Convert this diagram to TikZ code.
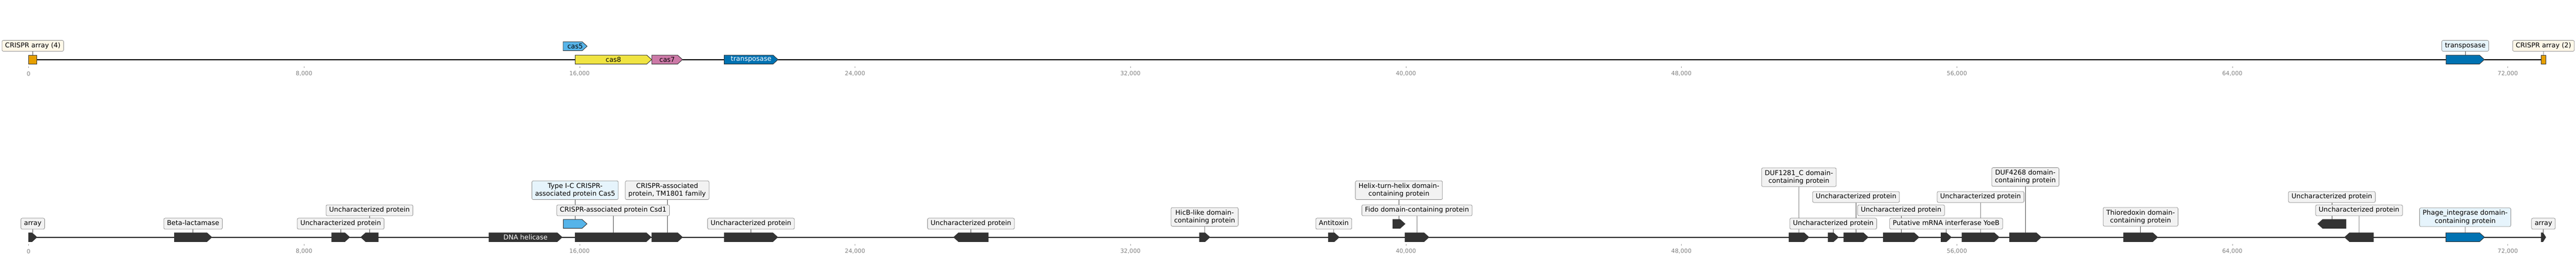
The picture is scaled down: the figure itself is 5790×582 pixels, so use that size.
\documentclass[tikz,border=0pt]{standalone}
\usepackage{fontspec}
\setmainfont{DejaVu Sans}
\definecolor{genedark}{HTML}{333333}
\definecolor{crisprorange}{HTML}{E69F00}
\definecolor{casyellow}{HTML}{F0E442}
\definecolor{caspink}{HTML}{CC79A7}
\definecolor{cassky}{HTML}{56B4E9}
\definecolor{tnpblue}{HTML}{0072B2}
\definecolor{labgray}{HTML}{F2F2F2}
\definecolor{labblue}{HTML}{E6F4FC}
\definecolor{labcream}{HTML}{FFF8E8}
\definecolor{labedge}{HTML}{8C8C8C}
\definecolor{tickgray}{HTML}{808080}
\pgfdeclarelayer{bglayer}
\pgfdeclarelayer{connlayer}
\pgfsetlayers{bglayer,connlayer,main}
% forward gene: name, x1, x2, ytop, fill
\newcommand{\genefwd}[5]{%
  \pgfmathsetmacro\ghl{min(11,(#3-#2)*0.6)}%
  \draw[genebody, fill=#5] (#2,#4) -- ({#3-\ghl},#4) -- (#3,{#4+10}) -- ({#3-\ghl},{#4+20}) -- (#2,{#4+20}) -- cycle;%
  \coordinate (#1) at ({(#2+#3)/2},#4);%
  \coordinate (#1c) at ({(#2+#3)/2},{#4+10});%
}
% reverse gene
\newcommand{\generev}[5]{%
  \pgfmathsetmacro\ghl{min(11,(#3-#2)*0.6)}%
  \draw[genebody, fill=#5] (#3,#4) -- ({#2+\ghl},#4) -- (#2,{#4+10}) -- ({#2+\ghl},{#4+20}) -- (#3,{#4+20}) -- cycle;%
  \coordinate (#1) at ({(#2+#3)/2},#4);%
  \coordinate (#1c) at ({(#2+#3)/2},{#4+10});%
}
% CRISPR array block
\newcommand{\generect}[5]{%
  \draw[genebody, fill=#5] (#2,#4) rectangle (#3,{#4+20});%
  \coordinate (#1) at ({(#2+#3)/2},#4);%
}
\begin{document}
\begin{tikzpicture}[x=1pt,y=-1pt,
  trackline/.style={line width=2.2pt, black},
  genebody/.style={draw=black!80, line width=1.1pt, line join=miter},
  conn/.style={draw=black!70, line width=0.9pt},
  labone/.style={draw=labedge, fill=labgray, rounded corners=3pt, line width=0.9pt,
    font=\fontsize{15}{17.5}\selectfont, inner xsep=7pt, inner ysep=5pt,
    text height=11pt, text depth=3.5pt, anchor=south},
  labtwo/.style={draw=labedge, fill=labgray, rounded corners=3pt, line width=0.9pt,
    font=\fontsize{15}{17.5}\selectfont, align=center, inner xsep=7pt, inner ysep=3pt,
    minimum height=42pt, anchor=south},
  intext/.style={font=\fontsize{15}{17.5}\selectfont, inner sep=0pt},
  ticklab/.style={font=\fontsize{13}{15}\selectfont, text=tickgray, inner sep=0pt},
  tickmark/.style={draw=tickgray!80, line width=0.8pt}
]
\begin{pgfonlayer}{bglayer}
\fill[white] (0,0) rectangle (5790,582);
\end{pgfonlayer}
\useasboundingbox (0,0) rectangle (5790,582);

% ---------- track lines ----------
\coordinate (ts) at (64.3,134);
\coordinate (te) at (5721.9,134);
\coordinate (bs) at (64.3,533.5);
\coordinate (be) at (5721.9,533.5);
\draw[trackline] (ts) -- (te);
\draw[trackline] (bs) -- (be);

% ---------- ticks ----------
\foreach \k/\t in {0/0,1/{8,000},2/{16,000},3/{24,000},4/{32,000},5/{40,000},6/{48,000},7/{56,000},8/{64,000},9/{72,000}}{
  \pgfmathsetmacro\tx{64.3+\k*619.15}
  \draw[tickmark] (\tx,149) -- (\tx,153);
  \node[ticklab] (tt\k) at (\tx,166) {\t};
  \draw[tickmark] (\tx,548.5) -- (\tx,552.5);
  \node[ticklab] (tb\k) at (\tx,565.5) {\t};
}

% ---------- top track genes ----------
\generect{gT1}{64.3}{83.2}{124}{crisprorange}
\genefwd{gT2}{1265.7}{1319.6}{94}{cassky}
\genefwd{gT3}{1292.9}{1464.7}{124}{casyellow}
\genefwd{gT4}{1465}{1534}{124}{caspink}
\genefwd{gT5}{1627.7}{1748.7}{124}{tnpblue}
\genefwd{gT6}{5498}{5584}{124}{tnpblue}
\generect{gT7}{5712}{5721.7}{124}{crisprorange}
\node[intext] (iT2) at (gT2c) {cas5};
\node[intext] (iT3) at (gT3c) {cas8};
\node[intext] (iT4) at (gT4c) {cas7};
\node[intext, text=white] (iT5) at (gT5c) {transposase};

% ---------- bottom track genes ----------
\genefwd{gB1}{64.4}{82.9}{523.5}{genedark}
\genefwd{gB2}{392}{476}{523.5}{genedark}
\genefwd{gB3}{745.5}{786}{523.5}{genedark}
\generev{gB4}{811}{850}{523.5}{genedark}
\genefwd{gB5}{1098.9}{1263.4}{523.5}{genedark}
\genefwd{gB6}{1266}{1319.3}{493.5}{cassky}
\genefwd{gB7}{1292.7}{1463.6}{523.5}{genedark}
\genefwd{gB8}{1465}{1534}{523.5}{genedark}
\genefwd{gB9}{1628}{1748}{523.5}{genedark}
\generev{gB10}{2143.5}{2221.3}{523.5}{genedark}
\genefwd{gB11}{2695.8}{2719.4}{523.5}{genedark}
\genefwd{gB12}{2985.7}{3010}{523.5}{genedark}
\genefwd{gB13}{3130.7}{3158}{493.5}{genedark}
\genefwd{gB14}{3158}{3211.7}{523.5}{genedark}
\genefwd{gB15}{4020.9}{4065.8}{523.5}{genedark}
\genefwd{gB16}{4109}{4132}{523.5}{genedark}
\genefwd{gB17}{4144.4}{4199}{523.5}{genedark}
\genefwd{gB18}{4232.7}{4313.3}{523.5}{genedark}
\genefwd{gB19}{4362.8}{4385.7}{523.5}{genedark}
\genefwd{gB20}{4409.7}{4493.4}{523.5}{genedark}
\genefwd{gB21}{4516.8}{4587.8}{523.5}{genedark}
\genefwd{gB22}{4773}{4849.5}{523.5}{genedark}
\generev{gB23}{5209.6}{5272.8}{493.5}{genedark}
\generev{gB24}{5270}{5334.7}{523.5}{genedark}
\genefwd{gB25}{5497.4}{5584.3}{523.5}{tnpblue}
\genefwd{gB26}{5711.5}{5721.9}{523.5}{genedark}
\node[intext, text=white] (iB5) at (gB5c) {DNA helicase};

% ---------- label nodes ----------
\path
  node[labone, fill=labcream] (lT1) at (73.75,115.7) {CRISPR array (4)}
  node[labone, fill=labblue] (lT6) at (5541,115.7) {transposase}
  node[labone, fill=labcream] (lT7) at (5716.85,115.7) {CRISPR array (2)}
  node[labone] (lB1) at (73.65,515.7) {array}
  node[labone] (lB2) at (434,515.7) {Beta-lactamase}
  node[labone] (lB3) at (765.75,515.7) {Uncharacterized protein}
  node[labone] (lB4) at (830.5,485.7) {Uncharacterized protein}
  node[labtwo, fill=labblue] (lB6) at (1292.65,449.3) {Type I-C CRISPR-\\associated protein Cas5}
  node[labone] (lB7) at (1378.15,485.7) {CRISPR-associated protein Csd1}
  node[labtwo] (lB8) at (1499.5,449.3) {CRISPR-associated\\protein, TM1801 family}
  node[labone] (lB9) at (1688,515.7) {Uncharacterized protein}
  node[labone] (lB10) at (2182.4,515.7) {Uncharacterized protein}
  node[labtwo] (lB11) at (2707.6,509.3) {HicB-like domain-\\containing protein}
  node[labone] (lB12) at (2997.85,515.7) {Antitoxin}
  node[labtwo] (lB13) at (3144.35,449.3) {Helix-turn-helix domain-\\containing protein}
  node[labone] (lB14) at (3184.85,485.7) {Fido domain-containing protein}
  node[labtwo] (lB15) at (4043.35,420) {DUF1281\_C domain-\\containing protein}
  node[labone] (lB16) at (4120.5,515.7) {Uncharacterized protein}
  node[labone] (lB17) at (4171.7,455.7) {Uncharacterized protein}
  node[labone] (lB18) at (4273,485.7) {Uncharacterized protein}
  node[labone] (lB19) at (4374.25,515.7) {Putative mRNA interferase YoeB}
  node[labone] (lB20) at (4451.55,455.7) {Uncharacterized protein}
  node[labtwo] (lB21) at (4552.3,419.5) {DUF4268 domain-\\containing protein}
  node[labtwo] (lB22) at (4811.25,509) {Thioredoxin domain-\\containing protein}
  node[labone] (lB23) at (5241.2,455.7) {Uncharacterized protein}
  node[labone] (lB24) at (5302.35,485.7) {Uncharacterized protein}
  node[labtwo, fill=labblue] (lB25) at (5540.85,510) {Phage\_integrase domain-\\containing protein}
  node[labone] (lB26) at (5716.7,515.7) {array};

% ---------- connectors (behind labels) ----------
\begin{pgfonlayer}{connlayer}
\foreach \n in {T1,T6,T7,B1,B2,B3,B4,B6,B7,B8,B9,B10,B11,B12,B13,B14,B15,B16,B17,B18,B19,B20,B21,B22,B23,B24,B25,B26}{
  \draw[conn] (l\n.south) -- (g\n);
}
\end{pgfonlayer}
\end{tikzpicture}
\end{document}
